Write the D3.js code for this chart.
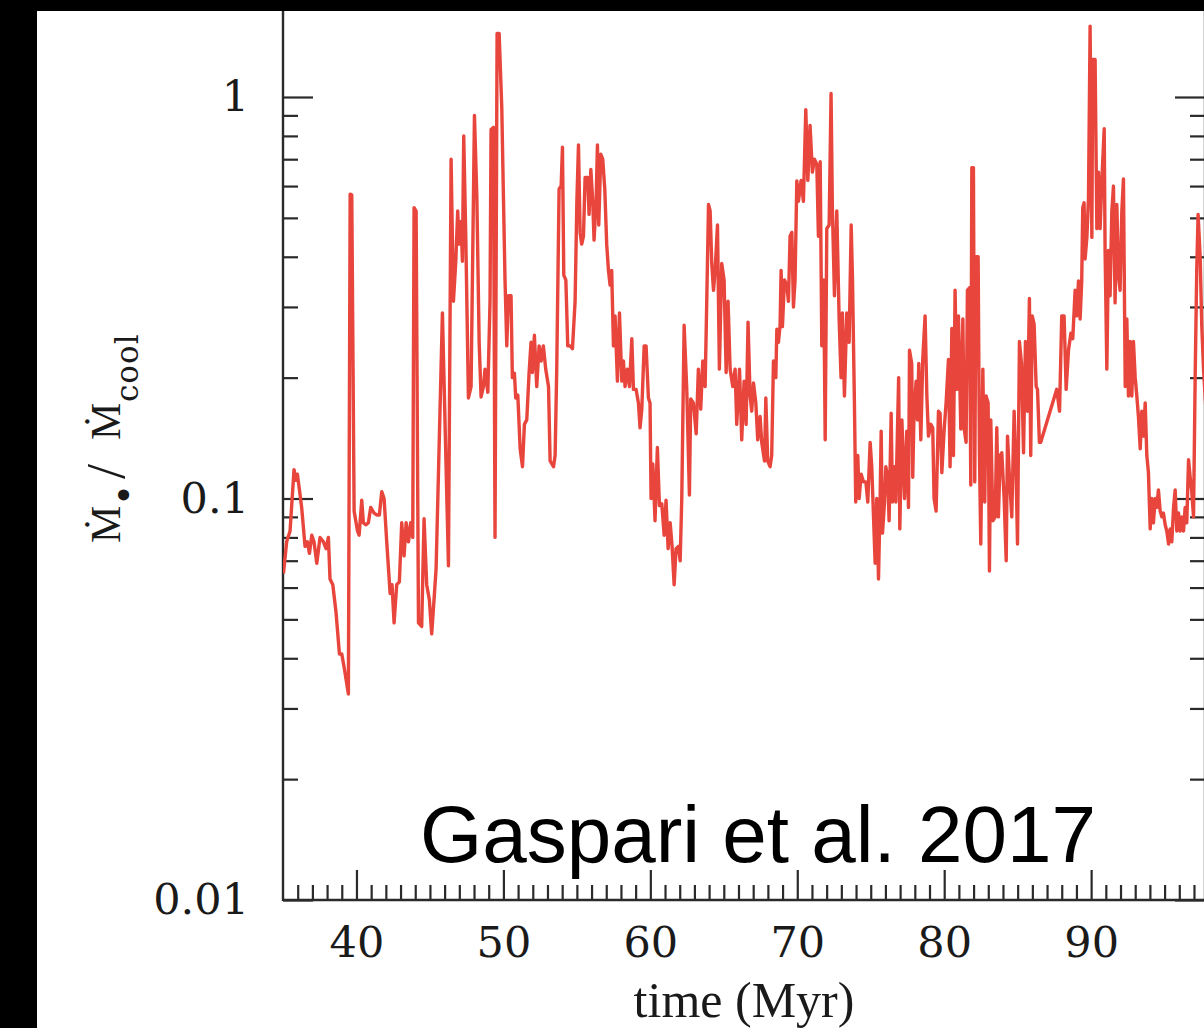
<!DOCTYPE html>
<html lang="en">

<head>
    <meta charset="UTF-8">
    <title>Accretion rate vs time</title>
    <style>
        body {
            padding: 0px;
            margin: 0px;
            background-color: black;
        }

        svg {
            display: block;
        }

        .tick-label {
            font-family: "DejaVu Serif", serif;
            font-size: 43px;
            fill: #1a1a1a;
        }
    </style>
</head>

<body>
    <div id="chart"></div>

    <script src="https://cdn.jsdelivr.net/npm/d3@7"></script>
    <script>
        // data (time in Myr, accretion rate normalised to cooling rate)
        const time = [
            35.03, 35.25, 35.48, 35.75, 35.89, 35.98, 36.12, 36.27, 36.50, 36.66,
            36.80, 36.96, 37.11, 37.30, 37.52, 37.75, 37.93, 38.09, 38.20, 38.39,
            38.61, 38.84, 39.00, 39.16, 39.45, 39.57, 39.68, 39.84, 40.07, 40.18,
            40.36, 40.47, 40.65, 40.81, 40.97, 41.20, 41.38, 41.56, 41.72, 41.88,
            42.06, 42.29, 42.42, 42.56, 42.74, 42.92, 43.08, 43.24, 43.38, 43.54,
            43.69, 43.83, 43.92, 44.06, 44.22, 44.44, 44.60, 44.78, 44.96, 45.12,
            45.28, 45.42, 45.85, 46.26, 46.44, 46.60, 46.76, 46.89, 46.98, 47.12,
            47.21, 47.30, 47.44, 47.62, 47.80, 48.03, 48.19, 48.35, 48.48, 48.64,
            48.75, 48.94, 49.09, 49.16, 49.32, 49.43, 49.57, 49.71, 49.89, 50.00,
            50.11, 50.23, 50.34, 50.52, 50.61, 50.75, 50.84, 50.98, 51.14, 51.30,
            51.43, 51.59, 51.75, 51.88, 51.97, 52.11, 52.27, 52.43, 52.57, 52.72,
            52.88, 53.07, 53.18, 53.41, 53.52, 53.63, 53.79, 53.93, 54.02, 54.11,
            54.25, 54.38, 54.54, 54.70, 54.88, 55.00, 55.11, 55.22, 55.33, 55.45,
            55.56, 55.74, 55.83, 55.95, 56.08, 56.17, 56.31, 56.40, 56.49, 56.63,
            56.76, 56.90, 57.03, 57.15, 57.26, 57.37, 57.49, 57.60, 57.76, 57.90,
            58.06, 58.17, 58.28, 58.44, 58.58, 58.74, 58.85, 59.03, 59.19, 59.30,
            59.42, 59.58, 59.71, 59.87, 59.98, 60.05, 60.17, 60.32, 60.48, 60.62,
            60.78, 60.94, 61.07, 61.21, 61.35, 61.48, 61.62, 61.75, 61.91, 62.03,
            62.14, 62.30, 62.48, 62.66, 62.75, 62.93, 63.12, 63.27, 63.43, 63.57,
            63.73, 63.84, 63.96, 64.07, 64.18, 64.30, 64.41, 64.57, 64.70, 64.86,
            65.02, 65.16, 65.29, 65.43, 65.61, 65.77, 65.88, 66.07, 66.22, 66.38,
            66.52, 66.65, 66.79, 66.90, 67.02, 67.18, 67.31, 67.47, 67.58, 67.77,
            67.86, 67.99, 68.15, 68.26, 68.38, 68.54, 68.61, 68.72, 68.83, 68.90,
            68.99, 69.13, 69.29, 69.40, 69.51, 69.63, 69.74, 69.85, 69.97, 70.08,
            70.26, 70.42, 70.58, 70.72, 70.87, 71.03, 71.17, 71.33, 71.44, 71.56,
            71.67, 71.80, 71.90, 72.01, 72.17, 72.30, 72.39, 72.53, 72.69, 72.85,
            72.98, 73.07, 73.21, 73.37, 73.53, 73.67, 73.76, 73.89, 73.98, 74.12,
            74.21, 74.35, 74.51, 74.67, 74.80, 74.96, 75.07, 75.19, 75.30, 75.41,
            75.53, 75.64, 75.71, 75.80, 75.94, 76.03, 76.16, 76.25, 76.39, 76.48,
            76.62, 76.71, 76.90, 76.98, 77.12, 77.30, 77.45, 77.57, 77.64, 77.79,
            77.86, 77.95, 78.09, 78.18, 78.27, 78.41, 78.54, 78.70, 78.82, 78.93,
            79.09, 79.22, 79.31, 79.45, 79.61, 79.72, 79.84, 80.00, 80.13, 80.29,
            80.40, 80.52, 80.63, 80.74, 80.86, 80.97, 81.13, 81.27, 81.36, 81.49,
            81.58, 81.72, 81.81, 81.88, 81.99, 82.08, 82.17, 82.31, 82.40, 82.49,
            82.63, 82.76, 82.85, 82.99, 83.08, 83.17, 83.31, 83.47, 83.58, 83.69,
            83.81, 83.92, 84.08, 84.22, 84.31, 84.44, 84.60, 84.76, 84.90, 84.99,
            85.12, 85.26, 85.40, 85.53, 85.67, 85.80, 85.89, 85.99, 86.12, 86.26,
            86.35, 86.48, 86.57, 87.66, 87.85, 88.00, 88.16, 88.30, 88.46, 88.62,
            88.75, 88.91, 89.02, 89.14, 89.25, 89.36, 89.43, 89.52, 89.59, 89.71,
            89.82, 89.93, 90.05, 90.11, 90.27, 90.39, 90.50, 90.61, 90.73, 90.89,
            90.95, 91.07, 91.18, 91.29, 91.41, 91.52, 91.63, 91.75, 91.86, 91.97,
            92.09, 92.20, 92.32, 92.43, 92.54, 92.66, 92.77, 92.88, 93.00, 93.11,
            93.22, 93.34, 93.45, 93.56, 93.68, 93.79, 93.90, 94.02, 94.13, 94.24,
            94.36, 94.47, 94.58, 94.70, 94.81, 94.92, 95.04, 95.15, 95.27, 95.38,
            95.49, 95.61, 95.72, 95.83, 95.95, 96.06, 96.17, 96.29, 96.40, 96.51,
            96.63, 96.74, 96.85, 96.97, 97.08, 97.19, 97.28, 97.42, 97.53, 97.65,
            97.80
        ];

        const ratio = [
            0.065, 0.078, 0.083, 0.118, 0.111, 0.115, 0.105, 0.095, 0.076, 0.078,
            0.073, 0.081, 0.078, 0.069, 0.080, 0.078, 0.075, 0.080, 0.063, 0.061,
            0.052, 0.041, 0.041, 0.038, 0.0326, 0.573, 0.57, 0.093, 0.083, 0.081,
            0.099, 0.087, 0.086, 0.087, 0.095, 0.092, 0.091, 0.091, 0.104, 0.100,
            0.078, 0.058, 0.061, 0.049, 0.061, 0.062, 0.087, 0.072, 0.087, 0.078,
            0.087, 0.080, 0.53, 0.52, 0.049, 0.048, 0.089, 0.061, 0.056, 0.046,
            0.056, 0.067, 0.29, 0.068, 0.70, 0.31, 0.39, 0.52, 0.43, 0.49,
            0.39, 0.80, 0.45, 0.178, 0.19, 0.90, 0.57, 0.245, 0.179, 0.19,
            0.21, 0.184, 0.31, 0.83, 0.84, 0.080, 1.44, 1.44, 0.94, 0.57,
            0.35, 0.24, 0.32, 0.32, 0.20, 0.205, 0.178, 0.181, 0.133, 0.12,
            0.153, 0.157, 0.206, 0.245, 0.206, 0.255, 0.19, 0.24, 0.22, 0.24,
            0.21, 0.19, 0.124, 0.12, 0.128, 0.21, 0.59, 0.60, 0.75, 0.36,
            0.35, 0.24, 0.24, 0.236, 0.31, 0.55, 0.76, 0.46, 0.43, 0.45,
            0.63, 0.63, 0.51, 0.66, 0.55, 0.44, 0.55, 0.76, 0.48, 0.72,
            0.70, 0.59, 0.43, 0.37, 0.34, 0.37, 0.24, 0.285, 0.196, 0.29,
            0.196, 0.22, 0.19, 0.21, 0.19, 0.25, 0.187, 0.187, 0.173, 0.15,
            0.167, 0.24, 0.24, 0.178, 0.173, 0.10, 0.122, 0.088, 0.134, 0.096,
            0.097, 0.081, 0.099, 0.075, 0.087, 0.076, 0.061, 0.075, 0.076, 0.070,
            0.10, 0.27, 0.187, 0.102, 0.177, 0.173, 0.145, 0.21, 0.167, 0.22,
            0.19, 0.31, 0.54, 0.52, 0.385, 0.33, 0.37, 0.48, 0.21, 0.385,
            0.35, 0.206, 0.31, 0.21, 0.19, 0.21, 0.153, 0.21, 0.14, 0.196,
            0.153, 0.275, 0.18, 0.165, 0.194, 0.173, 0.14, 0.16, 0.138, 0.124,
            0.178, 0.124, 0.12, 0.128, 0.22, 0.20, 0.264, 0.245, 0.27, 0.37,
            0.268, 0.35, 0.34, 0.31, 0.45, 0.46, 0.30, 0.35, 0.618, 0.55,
            0.62, 0.55, 0.93, 0.62, 0.85, 0.65, 0.70, 0.68, 0.45, 0.69,
            0.24, 0.35, 0.14, 0.47, 0.48, 1.02, 0.53, 0.32, 0.52, 0.28,
            0.20, 0.29, 0.18, 0.29, 0.245, 0.48, 0.35, 0.173, 0.098, 0.128,
            0.10, 0.115, 0.11, 0.11, 0.098, 0.138, 0.12, 0.09, 0.069, 0.10,
            0.063, 0.10, 0.147, 0.082, 0.098, 0.12, 0.113, 0.088, 0.163, 0.098,
            0.12, 0.098, 0.20, 0.084, 0.157, 0.10, 0.147, 0.095, 0.234, 0.217,
            0.113, 0.165, 0.196, 0.157, 0.217, 0.14, 0.222, 0.285, 0.18, 0.143,
            0.153, 0.15, 0.10, 0.093, 0.165, 0.163, 0.116, 0.149, 0.173, 0.222,
            0.12, 0.265, 0.128, 0.33, 0.187, 0.285, 0.149, 0.28, 0.149, 0.138,
            0.33, 0.335, 0.108, 0.667, 0.667, 0.11, 0.40, 0.40, 0.128, 0.077,
            0.21, 0.098, 0.18, 0.173, 0.066, 0.157, 0.088, 0.09, 0.15, 0.09,
            0.128, 0.13, 0.10, 0.07, 0.143, 0.113, 0.09, 0.165, 0.113, 0.077,
            0.246, 0.217, 0.13, 0.246, 0.165, 0.315, 0.128, 0.285, 0.272, 0.19,
            0.187, 0.138, 0.138, 0.187, 0.165, 0.285, 0.285, 0.187, 0.234, 0.258,
            0.25, 0.33, 0.285, 0.348, 0.28, 0.348, 0.53, 0.545, 0.395, 0.447,
            0.56, 1.50, 0.447, 1.24, 1.24, 0.47, 0.65, 0.47, 0.618, 0.834,
            0.415, 0.21, 0.415, 0.32, 0.52, 0.60, 0.307, 0.54, 0.36, 0.33,
            0.52, 0.625, 0.19, 0.28, 0.18, 0.246, 0.18, 0.246, 0.20, 0.18,
            0.16, 0.133, 0.165, 0.143, 0.173, 0.128, 0.116, 0.084, 0.10, 0.087,
            0.10, 0.095, 0.105, 0.093, 0.09, 0.092, 0.086, 0.083, 0.077, 0.084,
            0.078, 0.095, 0.105, 0.083, 0.092, 0.083, 0.09, 0.083, 0.095, 0.087,
            0.125, 0.113, 0.104, 0.09, 0.20, 0.375, 0.51, 0.40, 0.27, 0.21,
            0.17
        ];

        const xMajorTicks = [40, 50, 60, 70, 80, 90];
        const yMajorTicks = [0.01, 0.1, 1];
        const yTickLabels = ["0.01", "0.1", "1"];

        const w = 1204;
        const h = 1028;

        // plot frame
        const plotLeft = 283;
        const plotRight = 1205;
        const plotBottom = 900;
        const plotTop = 11;

        const svg = d3.select("#chart")
            .append("svg")
            .attr("width", w)
            .attr("height", h);

        // white page area inside the black border
        svg.append("rect")
            .attr("x", 37)
            .attr("y", plotTop)
            .attr("width", w - 37)
            .attr("height", h - plotTop)
            .attr("fill", "white");

        const x = d3.scaleLinear()
            .domain([35, 97.75])
            .range([plotLeft, plotRight]);

        const y = d3.scaleLog()
            .domain([0.01, 1])
            .range([plotBottom, 97]);

        const xMinor = d3.range(36, 98).filter((d) => d % 10 !== 0);
        const yMinor = y.ticks().filter((d) => !yMajorTicks.includes(d));

        const axisColor = "#2a2a2a";

        function styleAxis(g) {
            g.select(".domain").remove();
            g.selectAll(".tick line")
                .attr("stroke", axisColor)
                .attr("stroke-width", 2.2);
        }

        // left axis ticks (pointing in)
        svg.append("g")
            .attr("transform", `translate(${plotLeft}, 0)`)
            .call(d3.axisRight(y).tickValues(yMajorTicks).tickSize(30).tickFormat(""))
            .call(styleAxis);
        svg.append("g")
            .attr("transform", `translate(${plotLeft}, 0)`)
            .call(d3.axisRight(y).tickValues(yMinor).tickSize(15).tickFormat(""))
            .call(styleAxis);

        // right axis ticks
        svg.append("g")
            .attr("transform", `translate(${plotRight}, 0)`)
            .call(d3.axisLeft(y).tickValues(yMajorTicks).tickSize(30).tickFormat(""))
            .call(styleAxis);
        svg.append("g")
            .attr("transform", `translate(${plotRight}, 0)`)
            .call(d3.axisLeft(y).tickValues(yMinor).tickSize(15).tickFormat(""))
            .call(styleAxis);

        // bottom axis ticks
        svg.append("g")
            .attr("transform", `translate(0, ${plotBottom})`)
            .call(d3.axisTop(x).tickValues(xMajorTicks).tickSize(30).tickFormat(""))
            .call(styleAxis);
        svg.append("g")
            .attr("transform", `translate(0, ${plotBottom})`)
            .call(d3.axisTop(x).tickValues(xMinor).tickSize(15).tickFormat(""))
            .call(styleAxis);

        // tick labels
        const yLab = svg.append("g")
            .attr("transform", `translate(${plotLeft}, 0)`)
            .call(d3.axisLeft(y).tickValues(yMajorTicks).tickSize(0).tickPadding(34)
                .tickFormat((d, i) => yTickLabels[i]));
        yLab.select(".domain").remove();
        yLab.attr("font-family", null).attr("font-size", null);
        yLab.selectAll("text").attr("class", "tick-label");

        const xLab = svg.append("g")
            .attr("transform", `translate(0, ${plotBottom})`)
            .call(d3.axisBottom(x).tickValues(xMajorTicks).tickSize(0).tickPadding(26)
                .tickFormat((d) => d));
        xLab.select(".domain").remove();
        xLab.attr("font-family", null).attr("font-size", null);
        xLab.selectAll("text").attr("class", "tick-label");

        // frame lines
        svg.append("line")
            .attr("x1", plotLeft).attr("x2", plotLeft)
            .attr("y1", plotTop).attr("y2", plotBottom + 1)
            .attr("stroke", axisColor).attr("stroke-width", 2.4);
        svg.append("line")
            .attr("x1", plotLeft).attr("x2", plotRight)
            .attr("y1", plotBottom).attr("y2", plotBottom)
            .attr("stroke", axisColor).attr("stroke-width", 2.4);
        svg.append("line")
            .attr("x1", plotRight).attr("x2", plotRight)
            .attr("y1", plotTop).attr("y2", plotBottom)
            .attr("stroke", axisColor).attr("stroke-width", 2.4);

        // the curve
        svg.append("clipPath")
            .attr("id", "plot-clip")
            .append("rect")
            .attr("x", plotLeft)
            .attr("y", plotTop)
            .attr("width", plotRight - plotLeft)
            .attr("height", plotBottom - plotTop);

        const line = d3.line()
            .x((d, i) => x(time[i]))
            .y((d) => y(d));

        svg.append("path")
            .datum(ratio)
            .attr("clip-path", "url(#plot-clip)")
            .attr("d", line)
            .attr("fill", "none")
            .attr("stroke", "#e8453c")
            .attr("stroke-width", 3.4)
            .attr("stroke-linejoin", "round");

        // x axis title
        svg.append("text")
            .attr("x", (plotLeft + plotRight) / 2)
            .attr("y", 1017)
            .attr("text-anchor", "middle")
            .style("font-family", "'Liberation Serif', serif")
            .style("font-size", "50px")
            .attr("fill", "#1a1a1a")
            .text("time (Myr)");

        // y axis title: Mdot_bullet / Mdot_cool, laid out along the rotated baseline
        const yTitle = svg.append("text")
            .attr("transform", "translate(120, 543) rotate(-90)")
            .style("font-family", "'Liberation Serif', 'DejaVu Serif', serif")
            .style("font-size", "42px")
            .attr("fill", "#1a1a1a");
        yTitle.append("tspan").attr("x", 0).attr("y", 0).text("\u1E40");
        yTitle.append("tspan").attr("x", 40).attr("y", 19).style("font-size", "46px").text("\u2022");
        yTitle.append("tspan").attr("x", 64).attr("y", 4).style("font-size", "54px").text("/");
        yTitle.append("tspan").attr("x", 103).attr("y", 0).text("\u1E40");
        yTitle.append("tspan").attr("x", 141).attr("y", 18)
            .style("font-family", "'DejaVu Serif', serif")
            .style("font-size", "31px")
            .style("letter-spacing", "1px")
            .text("cool");

        // citation
        svg.append("text")
            .attr("x", 420)
            .attr("y", 862)
            .style("font-family", "'Liberation Sans', Arial, sans-serif")
            .style("font-size", "80px")
            .attr("fill", "black")
            .text("Gaspari et al. 2017");
    </script>
</body>

</html>
